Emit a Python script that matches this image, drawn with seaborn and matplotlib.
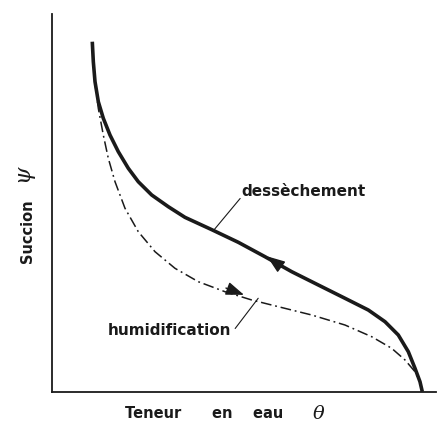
import matplotlib
matplotlib.use("Agg")
import matplotlib.pyplot as plt
import seaborn as sns
import pandas as pd

# Drying curve (dessèchement) — theta (water content), psi (suction), arbitrary units 0-100
dry_theta = [10.49, 10.76, 11.20, 12.06, 13.36, 15.10, 17.27, 19.87, 22.47, 25.96,
             30.29, 34.64, 41.59, 48.52, 55.47, 62.42, 69.35, 76.30, 82.37, 86.72,
             90.18, 92.79, 94.53, 95.83, 96.43]
dry_psi = [92.67, 87.38, 82.09, 76.80, 72.41, 67.99, 63.57, 59.18, 55.63, 52.12,
           49.02, 46.20, 42.95, 39.60, 35.79, 31.83, 28.31, 24.79, 21.69, 18.60,
           15.08, 10.66, 6.27, 2.72, 0.08]

# Wetting curve (humidification)
wet_theta = [11.20, 11.38, 12.06, 13.36, 14.66, 16.41, 19.01, 22.47, 26.82, 32.03,
             38.10, 45.05, 52.01, 58.93, 67.63, 76.30, 83.25, 88.46, 91.93, 94.53,
             95.83, 96.28]
wet_psi = [82.09, 80.34, 75.05, 67.99, 61.83, 55.63, 48.60, 42.41, 37.12, 32.72,
           29.18, 26.53, 24.34, 22.57, 20.37, 17.72, 14.63, 11.56, 8.47, 5.37,
           2.72, 0.53]

labels = ["dessèchement", "humidification"]
xlabel_text = "Teneur      en    eau"
ylabel_text = "Succion"
x_symbol = "$\\theta$"
y_symbol = "$\\psi$"

sns.set_style("white")
plt.rcParams["font.family"] = ["DejaVu Sans"]
plt.rcParams["mathtext.fontset"] = "dejavuserif"

ink = "#1a1a1a"
fig = plt.figure(figsize=(4.46, 4.26), dpi=100)
ax = fig.add_axes([52 / 446, 34 / 426, 384 / 446, 378 / 426])

dry = pd.DataFrame({"theta": dry_theta, "psi": dry_psi})
wet = pd.DataFrame({"theta": wet_theta, "psi": wet_psi})

sns.lineplot(data=dry, x="theta", y="psi", sort=False, estimator=None,
             color=ink, lw=2.6, ax=ax, solid_capstyle="butt", solid_joinstyle="round")
sns.lineplot(data=wet, x="theta", y="psi", sort=False, estimator=None,
             color=ink, lw=1.1, ax=ax)
ax.lines[-1].set_dashes([7, 2.5, 1.2, 2.5])

# direction arrows
arrow_kw = dict(arrowstyle="-|>,head_length=0.65,head_width=0.24", color=ink,
                lw=1, shrinkA=0, shrinkB=0, mutation_scale=17)
ax.annotate("", xy=(56.0, 35.9), xytext=(59.6, 33.2), arrowprops=arrow_kw)
ax.annotate("", xy=(50.0, 25.7), xytext=(45.3, 27.5), arrowprops=arrow_kw)

# leader lines and labels
ax.plot([42.2, 49.0], [42.9, 51.2], color=ink, lw=0.8)
ax.plot([47.7, 53.7], [16.8, 24.8], color=ink, lw=0.8)
ax.text(49.4, 51.85, labels[0], ha="left", va="baseline", fontsize=11,
        fontweight="bold", color=ink)
ax.text(46.8, 15.1, labels[1], ha="right", va="baseline", fontsize=11,
        fontweight="bold", color=ink)

ax.set_xlim(0, 100)
ax.set_ylim(0, 100)
ax.set_xticks([])
ax.set_yticks([])
for s in ["top", "right"]:
    ax.spines[s].set_visible(False)
for s in ["left", "bottom"]:
    ax.spines[s].set_color(ink)
    ax.spines[s].set_linewidth(1.3)

xl = ax.set_xlabel(xlabel_text, fontsize=10.5, fontweight="bold", color=ink)
xl.set_ha("left")
xl.set_va("center")
ax.xaxis.set_label_coords(0.190, -0.058)
yl = ax.set_ylabel(ylabel_text, fontsize=10.5, fontweight="bold", color=ink)
yl.set_va("center")
ax.yaxis.set_label_coords(-0.065, 0.426)

ax.text(0.695, -0.056, x_symbol, transform=ax.transAxes, fontsize=14,
        ha="center", va="center", color=ink)
ax.text(-0.065, 0.574, y_symbol, transform=ax.transAxes, fontsize=16,
        ha="center", va="center", rotation=90, color=ink)

fig.savefig("out.png", dpi=100)
